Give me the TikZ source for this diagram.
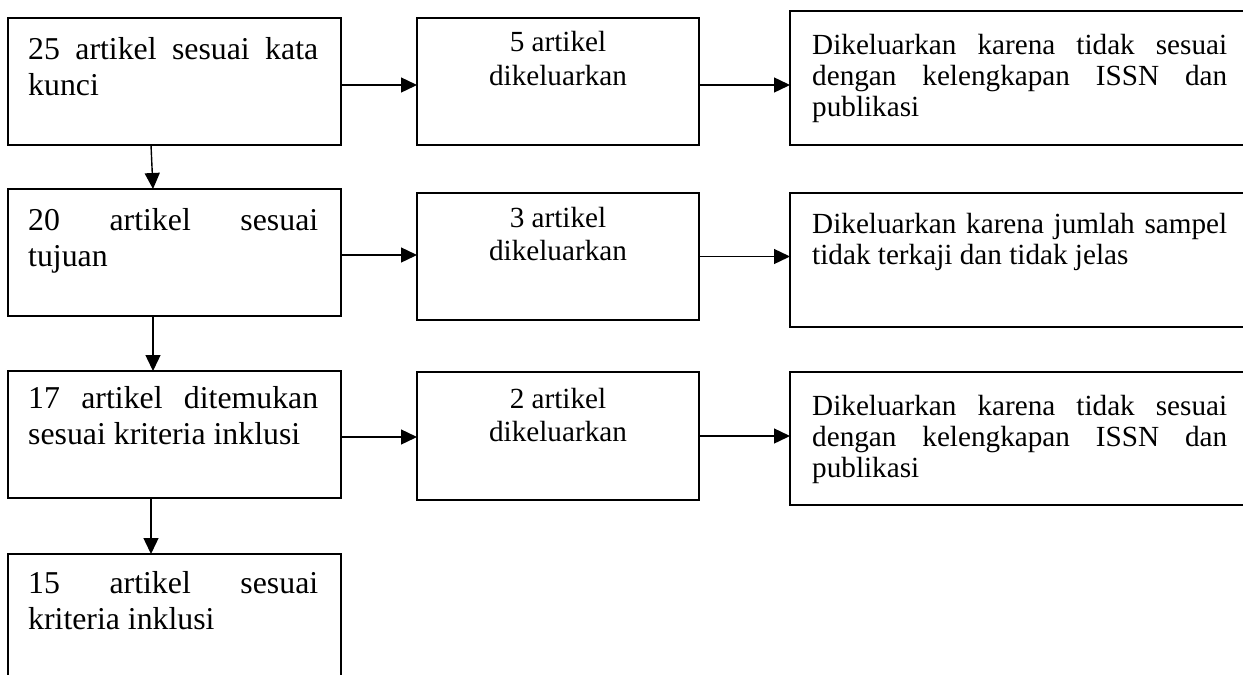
\documentclass[tikz,border=0pt]{standalone}
\usepackage{fontspec}
\setmainfont{Liberation Serif}
\usetikzlibrary{arrows.meta}
\begin{document}
\begin{tikzpicture}[x=1pt,y=-1pt,
  box/.style={draw, line width=1.6pt, rectangle, inner sep=0pt, outer sep=0pt, anchor=north west},
  arr/.style={line width=1.4pt, -{Triangle[length=16pt,width=15pt]}},
  lt/.style={inner sep=0pt, anchor=base west, font=\fontsize{31.8}{36}\selectfont},
  mt/.style={inner sep=0pt, anchor=base, font=\fontsize{29.2}{33}\selectfont},
  rt/.style={inner sep=0pt, anchor=base west, font=\fontsize{29.2}{33}\selectfont}]
\path[use as bounding box] (0,0) rectangle (1243,675);
\clip (0,0) rectangle (1243,675);
% boxes
\node[box, minimum width=333pt, minimum height=127pt] (b1) at (8,18) {};
\node[box, minimum width=333pt, minimum height=127pt] (b2) at (8,189) {};
\node[box, minimum width=333pt, minimum height=127pt] (b3) at (8,371) {};
\node[box, minimum width=333pt, minimum height=200pt] (b4) at (8,554) {};
\node[box, minimum width=282pt, minimum height=127pt] (m1) at (417,18) {};
\node[box, minimum width=282pt, minimum height=127pt] (m2) at (417,193) {};
\node[box, minimum width=282pt, minimum height=128pt] (m3) at (417,372) {};
\node[box, minimum width=500pt, minimum height=134pt] (r1) at (790,11) {};
\node[box, minimum width=500pt, minimum height=134pt] (r2) at (790,193) {};
\node[box, minimum width=500pt, minimum height=133pt] (r3) at (790,372) {};
% texts
\node[lt] (t1a) at (28,59) {\makebox[290pt][s]{25 artikel sesuai kata}};
\node[lt] (t1b) at (28,95) {kunci};
\node[lt] (t2a) at (28,230) {\makebox[290pt][s]{20 artikel sesuai}};
\node[lt] (t2b) at (28,266) {tujuan};
\node[lt] (t3a) at (28,408) {\makebox[290pt][s]{17 artikel ditemukan}};
\node[lt] (t3b) at (28,444) {sesuai kriteria inklusi};
\node[lt] (t4a) at (28,593) {\makebox[290pt][s]{15 artikel sesuai}};
\node[lt] (t4b) at (28,629) {kriteria inklusi};
\node[mt] (u1a) at (558,51) {5 artikel};
\node[mt] (u1b) at (558,85) {dikeluarkan};
\node[mt] (u2a) at (558,227) {3 artikel};
\node[mt] (u2b) at (558,260) {dikeluarkan};
\node[mt] (u3a) at (558,408) {2 artikel};
\node[mt] (u3b) at (558,441) {dikeluarkan};
\node[rt] (v1a) at (812,54) {\makebox[415pt][s]{Dikeluarkan karena tidak sesuai}};
\node[rt] (v1b) at (812,85) {\makebox[415pt][s]{dengan kelengkapan ISSN dan}};
\node[rt] (v1c) at (812,116) {publikasi};
\node[rt] (v2a) at (812,233) {\makebox[415pt][s]{Dikeluarkan karena jumlah sampel}};
\node[rt] (v2b) at (812,264) {tidak terkaji dan tidak jelas};
\node[rt] (v3a) at (812,415) {\makebox[415pt][s]{Dikeluarkan karena tidak sesuai}};
\node[rt] (v3b) at (812,446) {\makebox[415pt][s]{dengan kelengkapan ISSN dan}};
\node[rt] (v3c) at (812,477) {publikasi};
% connector start points
\coordinate (s1) at ([yshift=-3.5pt]b1.east);
\coordinate (s2) at ([yshift=-3.5pt]m1.east);
\coordinate (s3) at ([yshift=-2.5pt]b2.east);
\coordinate (s4) at (m2.east);
\coordinate (s5) at ([yshift=-2.5pt]b3.east);
\coordinate (s6) at (m3.east);
\draw[arr] (s1) -- (s1 -| m1.west);
\draw[arr] (s2) -- (s2 -| r1.west);
\draw[arr] (s3) -- (s3 -| m2.west);
\draw[arr] (s4) -- (s4 -| r2.west);
\draw[arr] (s5) -- (s5 -| m3.west);
\draw[arr] (s6) -- (s6 -| r3.west);
\draw[arr] ([xshift=-23.5pt]b1.south) -- ([xshift=-21.5pt]b2.north);
\draw[arr] ([xshift=-21.5pt]b2.south) -- ([xshift=-21.5pt]b3.north);
\draw[arr] ([xshift=-23.5pt]b3.south) -- ([xshift=-23.5pt]b4.north);
\end{tikzpicture}
\end{document}
